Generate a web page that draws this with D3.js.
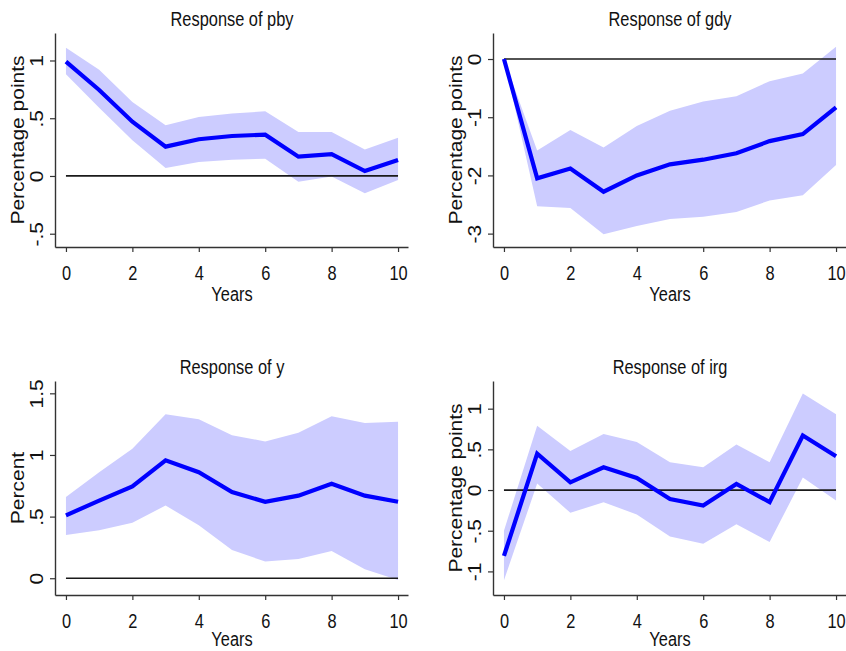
<!DOCTYPE html>
<html>
<head>
<meta charset="utf-8">
<script src="https://cdn.jsdelivr.net/npm/d3@7/dist/d3.min.js"></script>
<style>
  html, body { margin: 0; padding: 0; background: #fff; }
  svg { display: block; }
  text { font-family: "Liberation Sans", Arial, sans-serif; fill: #111; }
</style>
</head>
<body>
<svg id="chart" width="846" height="651"></svg>
<script>
// Horizon in years
const years = [0, 1, 2, 3, 4, 5, 6, 7, 8, 9, 10];
const xTicks = [0, 2, 4, 6, 8, 10];

// Response of pby (percentage points)
const pbyMid   = [0.99, 0.745, 0.47, 0.254, 0.318, 0.346, 0.358, 0.167, 0.19, 0.043, 0.139];
const pbyUpper = [1.11, 0.92, 0.64, 0.44, 0.51, 0.54, 0.56, 0.38, 0.38, 0.23, 0.33];
const pbyLower = [0.88, 0.59, 0.31, 0.07, 0.12, 0.14, 0.15, -0.05, -0.005, -0.15, -0.035];

// Response of gdy (percentage points)
const gdyMid   = [0, -2.05, -1.88, -2.28, -2.0, -1.81, -1.73, -1.62, -1.41, -1.29, -0.83];
const gdyUpper = [0, -1.57, -1.22, -1.52, -1.15, -0.89, -0.73, -0.64, -0.38, -0.25, 0.21];
const gdyLower = [0, -2.53, -2.56, -3.01, -2.87, -2.75, -2.71, -2.63, -2.43, -2.34, -1.82];

// Response of y (percent)
const yMid   = [0.51, 0.63, 0.745, 0.957, 0.86, 0.70, 0.62, 0.67, 0.767, 0.67, 0.62];
const yUpper = [0.66, 0.86, 1.05, 1.33, 1.29, 1.16, 1.11, 1.18, 1.315, 1.26, 1.27];
const yLower = [0.35, 0.39, 0.45, 0.59, 0.43, 0.23, 0.135, 0.157, 0.22, 0.073, -0.014];

// Response of irg (percentage points)
const irgMid   = [-0.81, 0.448, 0.094, 0.279, 0.148, -0.111, -0.19, 0.074, -0.148, 0.67, 0.415];
const irgUpper = [-0.5, 0.79, 0.48, 0.69, 0.59, 0.34, 0.28, 0.56, 0.34, 1.185, 0.93];
const irgLower = [-1.11, 0.08, -0.28, -0.15, -0.30, -0.57, -0.66, -0.42, -0.64, 0.155, -0.13];

// Y-axis tick values
const pbyTicks = [-0.5, 0, 0.5, 1];
const gdyTicks = [-3, -2, -1, 0];
const yTicks   = [0, 0.5, 1, 1.5];
const irgTicks = [-1, -0.5, 0, 0.5, 1];

const panels = [
  { title: "Response of pby", ylab: "Percentage points", mid: pbyMid, up: pbyUpper, lo: pbyLower,
    ticks: pbyTicks, ydom: [-0.615, 1.238], ox: 0, oy: 0 },
  { title: "Response of gdy", ylab: "Percentage points", mid: gdyMid, up: gdyUpper, lo: gdyLower,
    ticks: gdyTicks, ydom: [-3.23, 0.447], ox: 438, oy: 0 },
  { title: "Response of y", ylab: "Percent", mid: yMid, up: yUpper, lo: yLower,
    ticks: yTicks, ydom: [-0.136, 1.6], ox: 0, oy: 348 },
  { title: "Response of irg", ylab: "Percentage points", mid: irgMid, up: irgUpper, lo: irgLower,
    ticks: irgTicks, ydom: [-1.29, 1.34], ox: 438, oy: 348 }
];

const svg = d3.select("#chart");
const FS = "21px";        // label font size
const SX = 0.78;          // horizontal condensing of upright labels
const RX = 0.9;           // condensing of rotated labels
const fmt = v => String(v).replace(/^0\./, ".").replace(/^-0\./, "-.");

panels.forEach(p => {
  const g = svg.append("g").attr("transform", `translate(${p.ox},${p.oy})`);
  const x = d3.scaleLinear().domain([-0.33, 10.3]).range([55, 408]);
  const y = d3.scaleLinear().domain(p.ydom).range([247, 33]);

  // confidence band
  const area = d3.area()
    .x((d, i) => x(years[i]))
    .y0((d, i) => y(p.lo[i]))
    .y1((d, i) => y(p.up[i]));
  g.append("path").datum(p.mid).attr("d", area)
    .attr("fill", "#ccccff").attr("stroke", "none");

  // zero reference line
  g.append("line")
    .attr("x1", x(0)).attr("x2", x(10))
    .attr("y1", y(0)).attr("y2", y(0))
    .attr("stroke", "#1a1a1a").attr("stroke-width", 1.7);

  // point estimate
  const line = d3.line().x((d, i) => x(years[i])).y(d => y(d));
  g.append("path").datum(p.mid).attr("d", line)
    .attr("fill", "none").attr("stroke", "#0000ff")
    .attr("stroke-width", 4.2).attr("stroke-linejoin", "miter");

  // x axis
  const xa = g.append("g").attr("transform", "translate(0,247)")
    .call(d3.axisBottom(x).tickValues(xTicks).tickSize(5).tickSizeOuter(0).tickFormat(d3.format("d")));
  xa.select(".domain").attr("stroke", "#333").attr("stroke-width", 1.4);
  xa.selectAll(".tick line").attr("stroke", "#333").attr("stroke-width", 1.2);
  xa.selectAll(".tick text")
    .attr("y", 0).attr("dy", 0)
    .attr("transform", `translate(0,32.5) scale(${SX},1)`)
    .style("font-size", FS).style("font-family", "Liberation Sans, Arial, sans-serif")
    .attr("fill", "#111");

  // y axis
  const ya = g.append("g").attr("transform", "translate(55,0)")
    .call(d3.axisLeft(y).tickValues(p.ticks).tickSize(5).tickSizeOuter(0).tickFormat(fmt));
  ya.select(".domain").attr("stroke", "#333").attr("stroke-width", 1.4);
  ya.selectAll(".tick line").attr("stroke", "#333").attr("stroke-width", 1.2);
  ya.selectAll(".tick text")
    .attr("x", 0).attr("y", 0).attr("dy", 0)
    .attr("text-anchor", "middle")
    .attr("transform", `translate(-12.5,0) scale(${RX},1) rotate(-90)`)
    .style("font-size", FS).style("font-family", "Liberation Sans, Arial, sans-serif")
    .attr("fill", "#111");

  // title
  g.append("text")
    .attr("transform", `translate(232,26) scale(${SX},1)`)
    .attr("text-anchor", "middle").style("font-size", FS)
    .text(p.title);

  // x axis title
  const yearsY = p.oy > 0 ? 298 : 301;
  g.append("text")
    .attr("transform", `translate(232,${yearsY}) scale(${SX},1)`)
    .attr("text-anchor", "middle").style("font-size", FS)
    .text("Years");

  // y axis title
  g.append("text")
    .attr("transform", `translate(24,140) scale(${RX},1) rotate(-90)`)
    .attr("text-anchor", "middle").style("font-size", FS)
    .text(p.ylab);
});
</script>
</body>
</html>
